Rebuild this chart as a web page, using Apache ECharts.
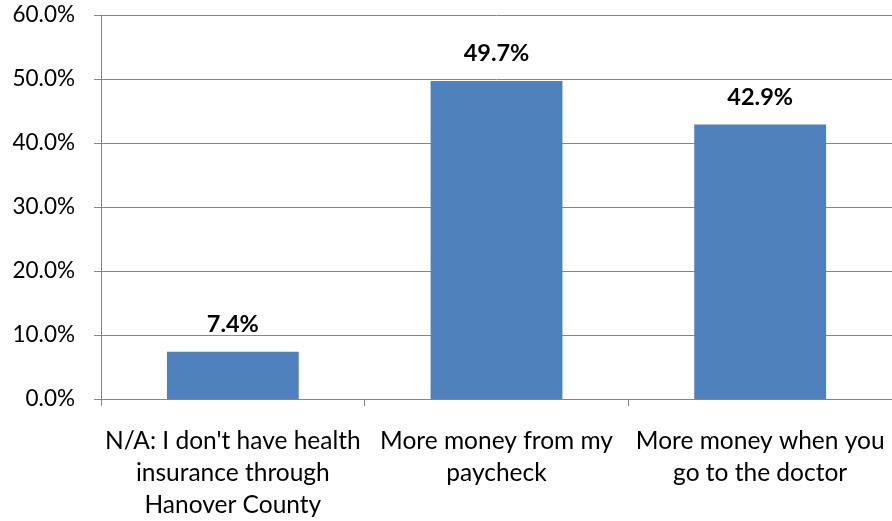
<!DOCTYPE html>
<html>
<head>
<meta charset="utf-8">
<style>
  html, body { margin: 0; padding: 0; background: #fff; }
  #chart { width: 892px; height: 521px; }
</style>
<script src="https://cdn.jsdelivr.net/npm/echarts@6/dist/echarts.min.js"></script>
</head>
<body>
<div id="chart"></div>
<script>
// Survey responses: share of respondents per option (percent)
const categories = [
  "N/A: I don't have health\ninsurance through\nHanover County",
  "More money from my\npaycheck",
  "More money when you\ngo to the doctor"
];
const shares = [7.4, 49.7, 42.9];
const yTicks = [0, 10, 20, 30, 40, 50, 60];

const FONT = 'Lato';
const chart = echarts.init(document.getElementById('chart'), null, { renderer: 'canvas' });

chart.setOption({
  animation: false,
  backgroundColor: '#ffffff',
  grid: { left: 101, top: 15, width: 795, height: 385, containLabel: false },
  xAxis: {
    type: 'category',
    data: categories,
    axisLine: { show: true, lineStyle: { color: '#868686', width: 1 } },
    axisTick: { show: true, alignWithLabel: false, length: 7, lineStyle: { color: '#868686' } },
    axisLabel: {
      color: '#000', fontFamily: FONT, fontSize: 24.5, lineHeight: 32,
      margin: 26, interval: 0, align: 'center'
    }
  },
  yAxis: {
    type: 'value',
    min: yTicks[0],
    max: yTicks[yTicks.length - 1],
    interval: 10,
    axisLine: { show: true, lineStyle: { color: '#868686', width: 1 } },
    axisTick: { show: true, length: 7, lineStyle: { color: '#868686' } },
    splitLine: { show: true, lineStyle: { color: '#868686', width: 1 } },
    axisLabel: {
      color: '#000', fontFamily: FONT, fontSize: 22.5, margin: 26,
      formatter: v => v.toFixed(1) + '%'
    }
  },
  series: [{
    type: 'bar',
    data: shares,
    barWidth: '50%',
    itemStyle: { color: '#4F81BD' },
    label: {
      show: true,
      position: 'top',
      distance: 15,
      color: '#000',
      fontFamily: FONT,
      fontSize: 23.5,
      fontWeight: 'bold',
      formatter: p => p.value.toFixed(1) + '%'
    }
  }]
});
</script>
</body>
</html>
